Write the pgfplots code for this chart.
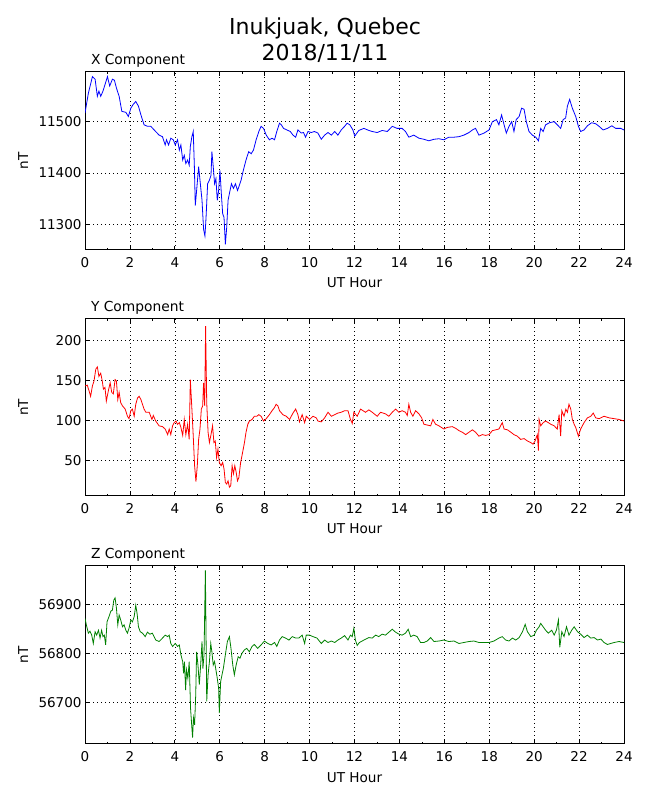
\documentclass[border=0pt]{standalone}
\usepackage{pgfplots}
\pgfplotsset{compat=1.18}
\usepackage{fontspec}
\setmainfont{DejaVu Sans}
\definecolor{mplgreen}{RGB}{0,128,0}
\pgfplotsset{
  magstyle/.style={
    scale only axis, width=539pt,
    xmin=0, xmax=24, xtick={0,2,...,24}, minor x tick num=1,
    tick align=inside, xtick pos=both, ytick pos=both,
    major tick length=4pt, minor tick length=2pt,
    every tick/.style={black, line width=0.7pt},
    grid=major, major grid style={black, line width=0.6pt, dash pattern=on 1pt off 3pt},
    axis line style={black, line width=1pt},
    scaled y ticks=false, scaled x ticks=false,
    /pgf/number format/assume math mode=true,
    /pgf/number format/1000 sep={},
    tick label style={font=\fontsize{13.5}{16}\selectfont},
    xticklabel style={anchor=base, yshift=-17.7pt},
    every axis x label/.style={at={(axis description cs:0.5,0)}, anchor=base, yshift=-38pt, font=\fontsize{13.6}{16}\selectfont},
    every axis y label/.style={at={(axis description cs:-0.1057,0.5)}, rotate=90, anchor=base, font=\fontsize{13.6}{16}\selectfont},
    every axis title/.style={at={(axis description cs:0,1)}, anchor=base west, xshift=2.5pt, yshift=7pt, font=\fontsize{13.8}{16}\selectfont},
    xlabel={UT Hour}, ylabel={nT},
    clip=true,
  }
}
\begin{document}
\begin{tikzpicture}
\path[use as bounding box] (0pt,0pt) rectangle (650pt,800pt);
\node[anchor=base, font=\fontsize{22}{26}\selectfont] at (325pt,765.7pt) {Inukjuak, Quebec};
\node[anchor=base, font=\fontsize{22}{26}\selectfont] at (325pt,739pt) {2018/11/11};

% X component
\begin{axis}[magstyle, at={(85pt,550pt)}, anchor=south west, height=178pt,
  ymin=11251, ymax=11595, ytick={11300,11400,11500}, title={X Component}]
\addplot[blue, line width=0.8pt] coordinates {
(0,11515.6)(0.15,11554)(0.33,11586)(0.45,11581)(0.55,11548)(0.62,11558)(0.70,11548)(0.80,11558)
(1.0,11586)(1.10,11568)(1.22,11581)(1.31,11579)(1.40,11564)(1.52,11548)(1.64,11519)(1.82,11517)
(1.93,11509)(2.04,11525)(2.14,11532)(2.26,11538)(2.38,11529)(2.49,11512)(2.63,11493)(2.78,11490)
(2.93,11490)(3.08,11483)(3.30,11473)(3.45,11470)(3.57,11454)(3.63,11464)(3.72,11454)(3.82,11467)
(3.93,11464)(4.02,11454)(4.12,11464)(4.20,11444)(4.27,11454)(4.35,11425)(4.42,11434)(4.49,11418)
(4.57,11425)(4.64,11415)(4.69,11451)(4.76,11470)(4.82,11480)(4.87,11412)(4.91,11337)(4.97,11366)
(5.06,11412)(5.12,11386)(5.21,11347)(5.28,11291)(5.34,11278)(5.39,11314)(5.46,11379)(5.54,11386)
(5.61,11395)(5.65,11441)(5.71,11412)(5.77,11379)(5.83,11389)(5.89,11347)(5.95,11366)(6.01,11405)
(6.07,11360)(6.13,11321)(6.19,11314)(6.25,11262)(6.31,11295)(6.37,11347)(6.43,11360)(6.52,11379)
(6.61,11370)(6.70,11379)(6.79,11366)(6.85,11373)(6.95,11386)(7.05,11405)(7.17,11425)(7.29,11441)
(7.40,11437)(7.50,11444)(7.62,11464)(7.74,11480)(7.84,11490)(7.95,11486)(8.07,11473)(8.21,11464)
(8.33,11467)(8.44,11464)(8.54,11480)(8.66,11496)(8.74,11493)(8.84,11486)(8.99,11483)(9.14,11480)
(9.26,11473)(9.38,11469)(9.48,11483)(9.63,11477)(9.73,11478)(9.82,11469)(9.93,11480)(10.07,11478)
(10.22,11480)(10.37,11477)(10.52,11465)(10.67,11473)(10.82,11478)(10.97,11473)(11.12,11480)(11.26,11473)
(11.41,11483)(11.56,11490)(11.67,11496)(11.79,11493)(11.93,11483)(12.01,11471)(12.19,11482)(12.42,11486)
(12.64,11482)(12.79,11480)(13.01,11478)(13.23,11482)(13.46,11480)(13.68,11490)(13.9,11486)(14.12,11486)
(14.27,11480)(14.42,11469)(14.64,11473)(14.87,11467)(15.09,11465)(15.31,11462)(15.54,11465)(15.76,11466)
(15.98,11464)(16.2,11469)(16.43,11469)(16.65,11470)(16.87,11473)(17.1,11478)(17.25,11483)(17.39,11486)
(17.54,11473)(17.77,11477)(17.99,11483)(18.14,11499)(18.32,11503)(18.43,11493)(18.55,11512)(18.66,11493)
(18.76,11477)(18.88,11490)(19.0,11499)(19.1,11480)(19.2,11503)(19.33,11509)(19.44,11525)(19.55,11523)
(19.65,11499)(19.77,11480)(19.92,11473)(20.07,11469)(20.19,11462)(20.29,11486)(20.4,11480)(20.51,11493)
(20.69,11497)(20.89,11499)(21.03,11493)(21.18,11486)(21.29,11503)(21.4,11506)(21.48,11529)(21.58,11542)
(21.7,11525)(21.85,11509)(21.97,11490)(22.07,11480)(22.22,11483)(22.37,11491)(22.56,11497)(22.74,11495)
(22.89,11490)(23.07,11483)(23.26,11486)(23.46,11491)(23.63,11486)(23.86,11486)(24,11483)
};
\end{axis}

% Y component
\begin{axis}[magstyle, at={(85pt,304pt)}, anchor=south west, height=177pt,
  ymin=5, ymax=227, ytick={50,100,150,200}, title={Y Component}]
\addplot[red, line width=0.8pt] coordinates {
(0,143)(0.1,144)(0.18,137)(0.25,130)(0.33,143)(0.4,149)(0.48,164)(0.55,167)(0.62,155)(0.7,159)
(0.77,149)(0.82,139)(0.89,141)(0.95,124)(1.04,137)(1.12,147)(1.19,135)(1.26,133)(1.34,151)(1.4,149)
(1.46,126)(1.52,135)(1.59,122)(1.67,118)(1.79,114)(1.89,105)(1.96,102)(2.04,112)(2.11,114)(2.19,105)
(2.26,120)(2.34,128)(2.41,130)(2.49,126)(2.56,120)(2.63,114)(2.71,110)(2.86,110)(2.98,101)(3.04,106)
(3.15,99)(3.3,93)(3.45,92)(3.57,89)(3.68,82)(3.75,89)(3.82,82)(3.9,93)(3.97,97)(4.05,99)
(4.12,95)(4.2,97)(4.27,91)(4.35,81)(4.42,101)(4.49,82)(4.57,95)(4.64,76)(4.69,151)(4.76,114)
(4.82,80)(4.88,43)(4.94,23)(5.0,43)(5.06,76)(5.12,89)(5.18,114)(5.24,118)(5.28,147)(5.33,118)
(5.37,218)(5.42,122)(5.48,85)(5.54,72)(5.61,82)(5.68,93)(5.74,72)(5.80,74)(5.86,53)(5.92,64)
(5.98,47)(6.06,43)(6.13,47)(6.19,39)(6.25,22)(6.31,20)(6.37,24)(6.43,16)(6.49,18)(6.55,43)
(6.61,33)(6.67,43)(6.73,35)(6.79,24)(6.85,28)(6.93,47)(7.02,60)(7.10,72)(7.17,85)(7.25,95)
(7.32,99)(7.44,101)(7.54,105)(7.65,105)(7.74,107)(7.84,105)(7.95,99)(8.07,102)(8.21,107)(8.33,112)
(8.44,116)(8.51,120)(8.59,118)(8.66,112)(8.81,107)(8.96,105)(9.11,101)(9.26,109)(9.38,114)(9.48,107)
(9.55,98)(9.67,107)(9.78,97)(9.85,105)(10.0,101)(10.15,105)(10.3,103)(10.37,99)(10.52,98)(10.67,103)
(10.82,110)(10.97,105)(11.12,107)(11.26,109)(11.41,110)(11.56,112)(11.71,112)(11.82,101)(11.9,96)(11.97,110)
(12.12,105)(12.27,114)(12.49,110)(12.64,113)(12.79,110)(13.01,105)(13.16,110)(13.38,108)(13.53,105)(13.68,110)
(13.83,114)(13.98,110)(14.12,112)(14.27,110)(14.35,106)(14.42,120)(14.5,110)(14.6,105)(14.72,112)(14.87,108)
(14.99,103)(15.09,95)(15.24,94)(15.39,93)(15.49,101)(15.61,95)(15.76,93)(15.98,89)(16.13,91)(16.35,92)
(16.5,90)(16.65,87)(16.8,85)(16.95,82)(17.1,85)(17.25,88)(17.39,85)(17.54,80)(17.69,82)(17.84,81)
(17.99,82)(18.14,87)(18.29,88)(18.43,89)(18.58,97)(18.66,89)(18.81,88)(18.96,85)(19.1,82)(19.25,80)
(19.4,76)(19.55,77)(19.7,74)(19.85,72)(19.95,70)(20.04,74)(20.14,82)(20.19,62)(20.22,101)(20.29,93)
(20.4,97)(20.51,99)(20.63,97)(20.74,95)(20.89,93)(21.03,89)(21.11,107)(21.18,80)(21.23,112)(21.33,105)
(21.41,114)(21.48,110)(21.55,120)(21.63,114)(21.7,101)(21.78,95)(21.85,91)(21.97,80)(22.07,89)(22.22,97)
(22.37,103)(22.52,105)(22.63,109)(22.74,103)(22.89,102)(23.11,105)(23.34,103)(23.56,102)(23.78,101)(24,99)
};
\end{axis}

% Z component
\begin{axis}[magstyle, at={(85pt,56pt)}, anchor=south west, height=178pt,
  ymin=56615, ymax=56978, ytick={56700,56800,56900}, title={Z Component}]
\addplot[mplgreen, line width=0.8pt] coordinates {
(0,56871)(0.06,56858)(0.15,56841)(0.22,56845)(0.3,56837)(0.37,56820)(0.45,56844)(0.52,56837)(0.6,56847)(0.67,56831)
(0.74,56847)(0.8,56834)(0.86,56837)(0.92,56817)(0.98,56864)(1.07,56875)(1.15,56886)(1.22,56888)(1.28,56908)(1.34,56913)
(1.4,56892)(1.46,56858)(1.52,56878)(1.59,56868)(1.67,56854)(1.74,56858)(1.82,56847)(1.89,56841)(1.96,56851)(2.04,56868)
(2.11,56864)(2.19,56875)(2.26,56898)(2.32,56881)(2.38,56854)(2.46,56844)(2.56,56841)(2.68,56834)(2.78,56843)(2.89,56839)
(3.0,56841)(3.15,56827)(3.3,56824)(3.45,56831)(3.57,56837)(3.68,56834)(3.75,56837)(3.82,56820)(3.9,56814)(4.02,56820)
(4.12,56814)(4.2,56817)(4.27,56797)(4.35,56783)(4.39,56759)(4.43,56783)(4.48,56725)(4.52,56766)(4.58,56749)(4.64,56783)
(4.7,56688)(4.75,56654)(4.79,56628)(4.83,56668)(4.88,56654)(4.93,56715)(4.97,56803)(5.03,56776)(5.09,56736)(5.15,56776)
(5.21,56824)(5.25,56769)(5.3,56797)(5.36,56969)(5.42,56702)(5.48,56756)(5.54,56783)(5.6,56820)(5.65,56803)(5.71,56776)
(5.77,56783)(5.83,56766)(5.89,56749)(5.95,56729)(5.98,56678)(6.04,56742)(6.1,56756)(6.16,56769)(6.25,56797)(6.34,56824)
(6.43,56834)(6.5,56810)(6.58,56776)(6.65,56756)(6.73,56776)(6.82,56793)(6.9,56790)(6.99,56800)(7.1,56807)(7.2,56810)
(7.32,56803)(7.44,56814)(7.54,56818)(7.69,56810)(7.84,56817)(7.99,56825)(8.14,56820)(8.29,56817)(8.44,56822)(8.54,56814)
(8.66,56827)(8.78,56834)(8.93,56831)(9.08,56827)(9.23,56834)(9.38,56831)(9.52,56831)(9.67,56837)(9.78,56820)(9.85,56837)
(10.0,56837)(10.15,56834)(10.33,56831)(10.52,56820)(10.67,56827)(10.82,56822)(10.97,56825)(11.12,56822)(11.26,56827)(11.41,56831)
(11.56,56836)(11.71,56827)(11.82,56837)(11.9,56834)(11.97,56851)(12.04,56827)(12.12,56816)(12.22,56822)(12.42,56827)(12.64,56832)
(12.79,56831)(12.94,56837)(13.08,56834)(13.23,56839)(13.38,56837)(13.53,56843)(13.68,56849)(13.83,56843)(13.98,56839)(14.12,56837)
(14.27,56841)(14.39,56849)(14.5,56834)(14.64,56837)(14.79,56834)(14.94,56822)(15.09,56822)(15.24,56825)(15.39,56832)(15.54,56824)
(15.76,56825)(15.98,56827)(16.2,56824)(16.43,56825)(16.65,56820)(16.87,56822)(17.1,56824)(17.32,56825)(17.54,56822)(17.77,56822)
(17.99,56822)(18.21,56825)(18.43,56831)(18.58,56834)(18.73,56827)(18.88,56825)(19.03,56831)(19.18,56827)(19.33,56832)(19.48,56844)
(19.6,56859)(19.7,56844)(19.85,56834)(20.0,56837)(20.1,56847)(20.22,56854)(20.29,56861)(20.4,56854)(20.51,56847)(20.63,56841)
(20.78,56847)(20.89,56837)(20.99,56847)(21.08,56868)(21.14,56812)(21.23,56844)(21.33,56834)(21.44,56854)(21.55,56837)(21.67,56847)
(21.78,56854)(21.93,56844)(22.07,56839)(22.22,56832)(22.37,56837)(22.52,56831)(22.67,56832)(22.82,56827)(22.97,56829)(23.11,56822)
(23.26,56818)(23.41,56820)(23.56,56822)(23.78,56824)(24,56822)
};
\end{axis}
\end{tikzpicture}
\end{document}
